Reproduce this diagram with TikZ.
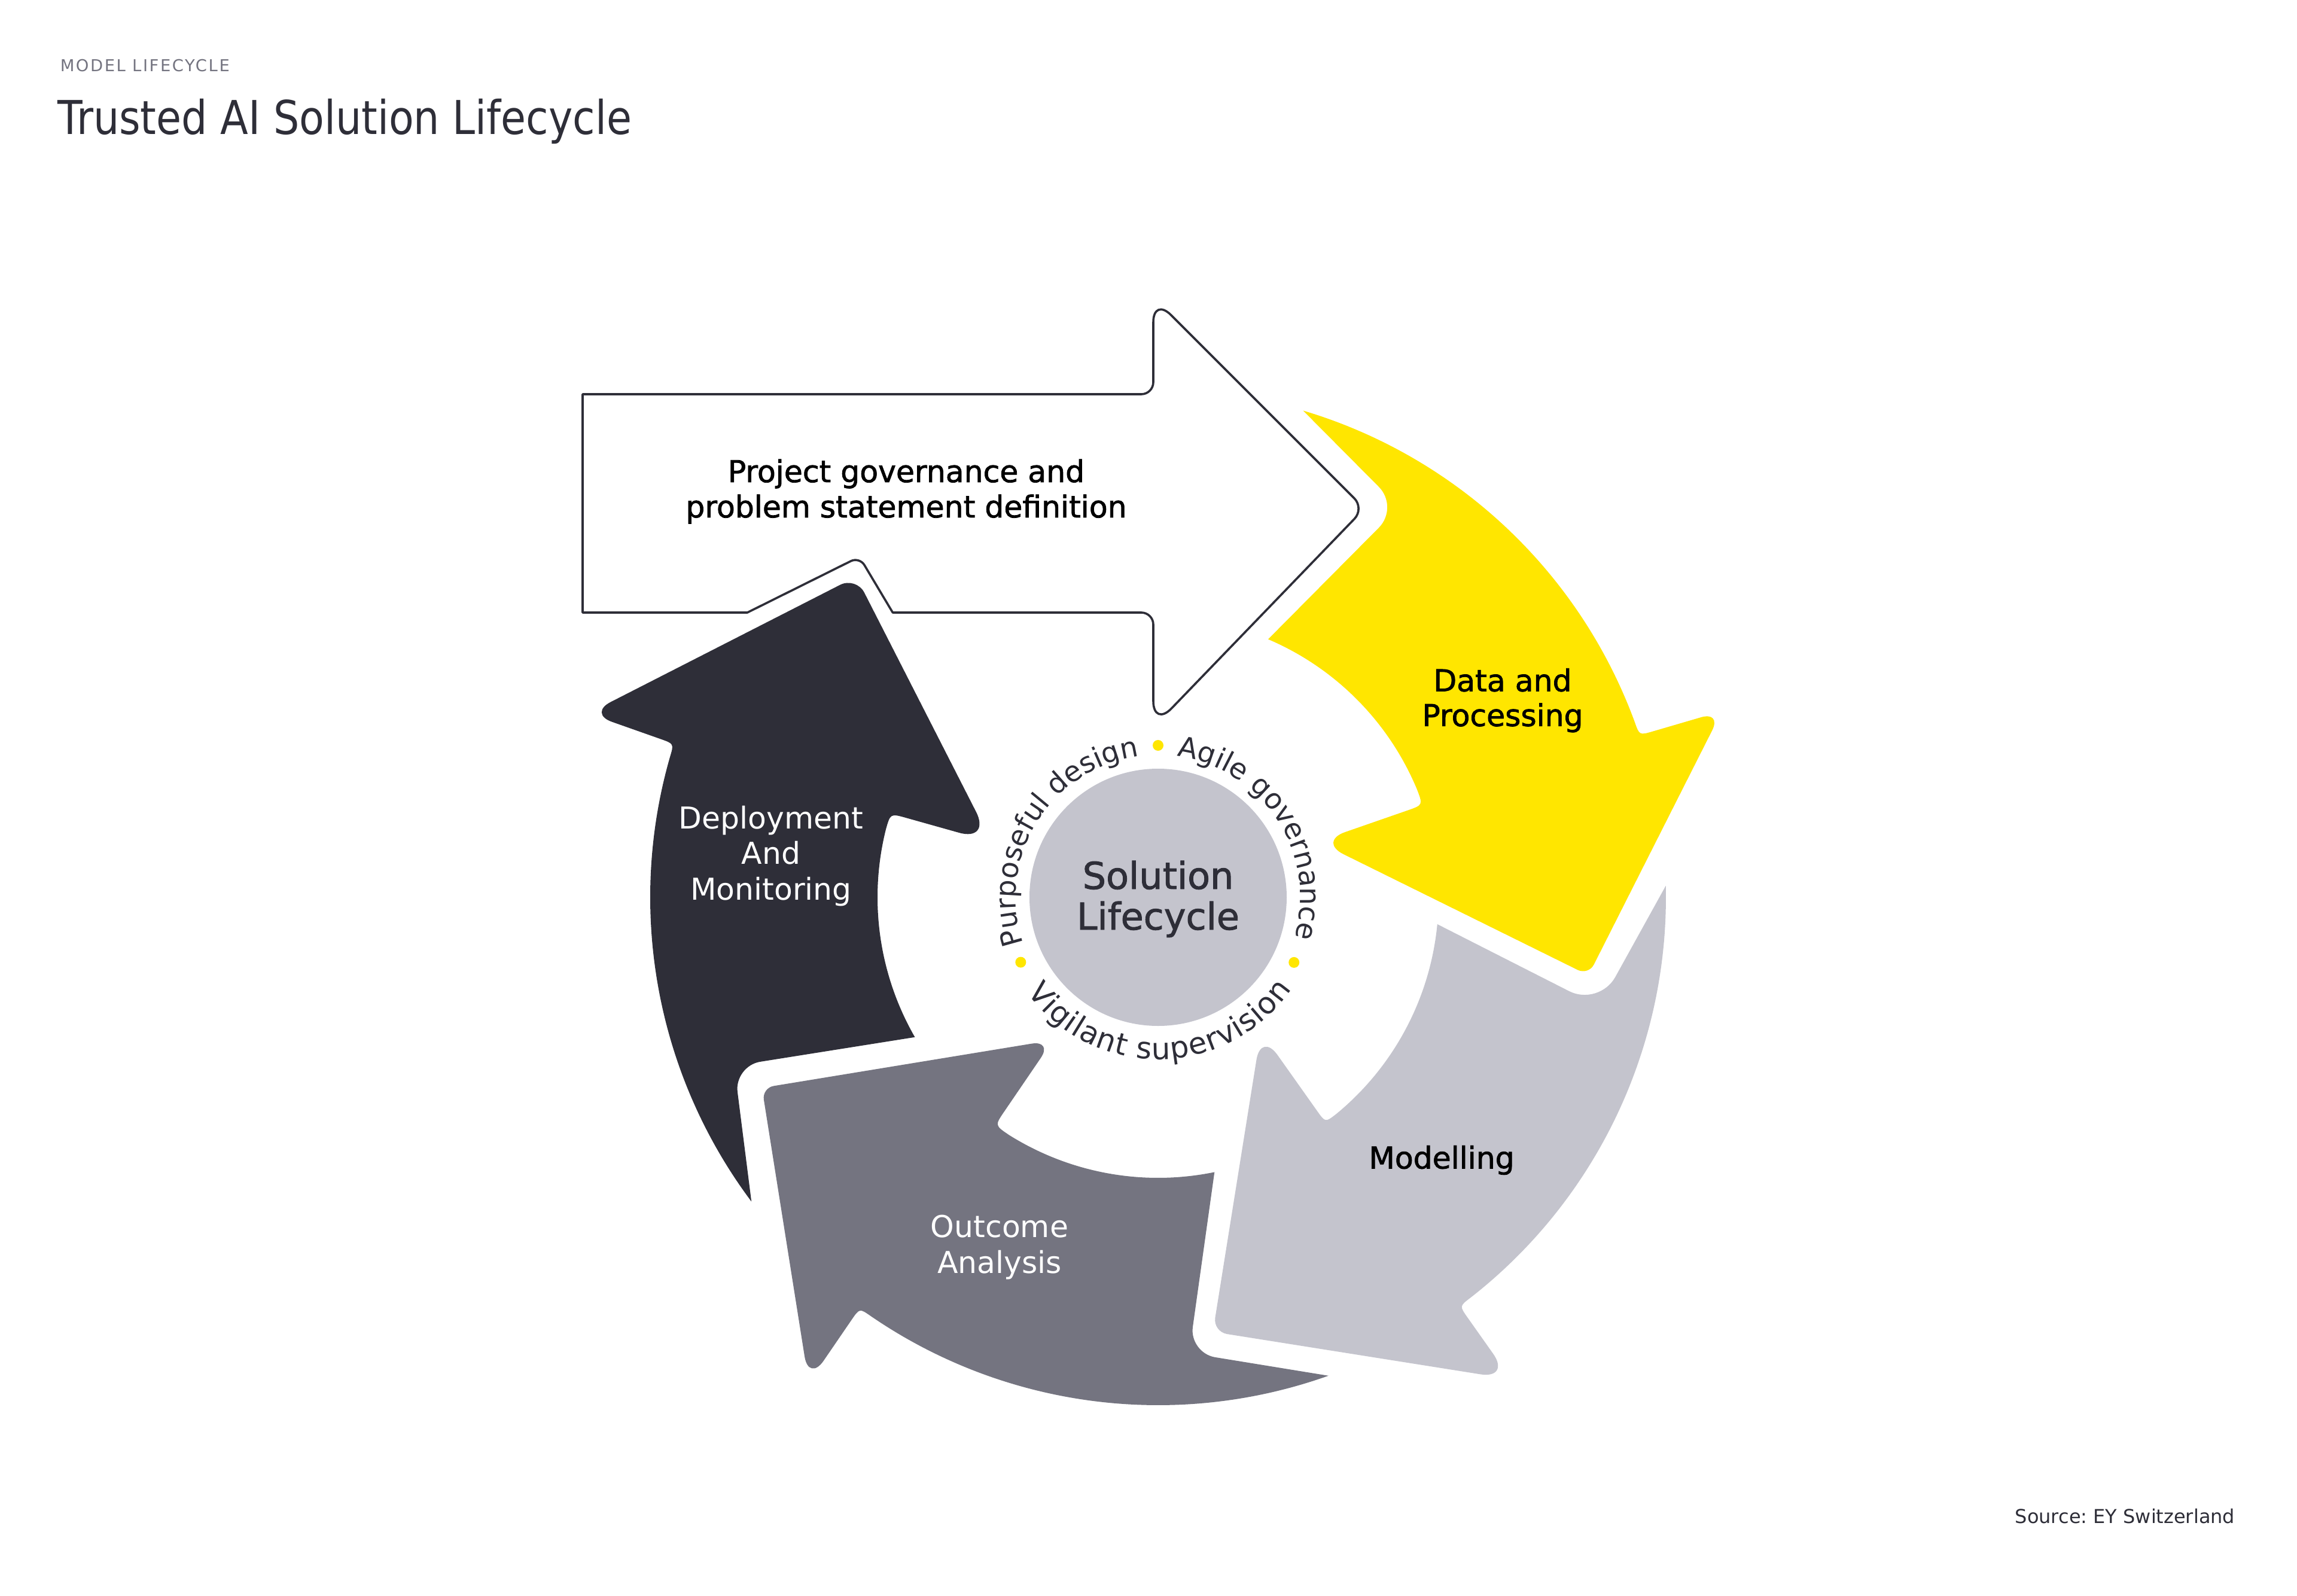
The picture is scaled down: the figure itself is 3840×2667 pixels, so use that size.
\documentclass[tikz,border=0pt]{standalone}
\usepackage{fontspec}
\setmainfont{DejaVu Sans}
\newfontfamily\titlefont[FakeStretch=0.875]{DejaVu Sans}
\newfontfamily\capsfont[LetterSpace=9.4]{DejaVu Sans}
\newfontfamily\medfont[FakeBold=1.5]{DejaVu Sans}
\usetikzlibrary{calc,decorations.text}
\definecolor{eyyellow}{HTML}{FFE600}
\definecolor{eylight}{HTML}{C4C4CD}
\definecolor{eymid}{HTML}{747480}
\definecolor{eydark}{HTML}{2E2E38}
\frenchspacing
% rounded corner: prev, corner, next, distance, control distance
\newcommand\rcorner[5]{-- ($(#2)!#4!(#1)$) .. controls ($(#2)!#5!(#1)$) and ($(#2)!#5!(#3)$) .. ($(#2)!#4!(#3)$)}
\newcommand\labfont{\fontsize{12.6pt}{15pt}\selectfont}
\newcommand\ringfont{\fontsize{11.8pt}{14pt}\selectfont}
\newcommand\ringfontb{\fontsize{12.5pt}{14pt}\selectfont}
\begin{document}
\begin{tikzpicture}[x=0.25pt,y=0.25pt,
  lab/.style={anchor=base,inner sep=0pt,font=\labfont},
  darklab/.style={lab,text=black,font=\medfont\labfont},
  lightlab/.style={lab,text=white},
  ringtext/.style={decorate,decoration={text along path,text align={fit to path},text color=eydark}},
  dotmark/.style={fill=eyyellow}]
\useasboundingbox (-1936,-1167) rectangle (1904,1500);
\fill[white] (-1936,-1167) rectangle (1904,1500);

% ---------- white arrow: project governance ----------
\draw[eydark,line width=0.9pt,line join=round,fill=white] (-962,841)
  \rcorner{-962,841}{-8,841}{-8,1003}{5pt}{2.25pt}
  \rcorner{-8,841}{-8,1003}{345,650}{10.5pt}{4.7pt}
  \rcorner{-8,1003}{345,650}{-8,284.2}{6pt}{2.7pt}
  \rcorner{345,650}{-8,284.2}{-8,476}{11pt}{5pt}
  \rcorner{-8,284.2}{-8,476}{-443.6,476}{5pt}{2.25pt}
  -- (-443.6,476)
  \rcorner{-443.6,476}{-499.2,569.2}{-686.6,476}{4pt}{1.8pt}
  -- (-686.6,476) -- (-962,476) -- cycle;

% ---------- yellow arrow: data and processing ----------
\fill[eyyellow] (73.4:849)
  \rcorner{73.4:849}{403,652}{66.9:469}{12pt}{5.4pt}
  -- (66.9:469) arc[start angle=66.9,end angle=22.6,radius=469]
  .. controls (19.2:469) .. ($(19.2:469)!7pt!(267.2,93.2)$)
  \rcorner{19.2:469}{267.2,93.2}{719.5,-130.3}{12pt}{5.4pt}
  \rcorner{267.2,93.2}{719.5,-130.3}{942.5,311.1}{5pt}{2.25pt}
  \rcorner{719.5,-130.3}{942.5,311.1}{18.6:849}{9pt}{4pt}
  -- ($(18.6:849)!6pt!(942.5,311.1)$) .. controls (18.6:849) .. (20.2:849)
  arc[start angle=20.2,end angle=73.4,radius=849] -- cycle;

% ---------- light grey arrow: modelling ----------
\fill[eylight] (1.3:849)
  \rcorner{1.3:849}{737.2,-182.3}{-5.5:469}{14pt}{6.3pt}
  -- (-5.5:469) arc[start angle=-5.5,end angle=-50.5,radius=469]
  .. controls (-53.4:469) .. ($(-53.4:469)!6pt!(172,-224.6)$)
  \rcorner{-53.4:469}{172,-224.6}{91.7,-726.3}{12pt}{5.4pt}
  \rcorner{172,-224.6}{91.7,-726.3}{590.2,-805.5}{6pt}{2.7pt}
  \rcorner{91.7,-726.3}{590.2,-805.5}{-53.6:849}{13pt}{5.85pt}
  -- ($(-53.6:849)!6pt!(590.2,-805.5)$) .. controls (-53.6:849) .. (-52:849)
  arc[start angle=-52,end angle=1.3,radius=849] -- cycle;

% ---------- mid grey arrow: outcome analysis ----------
\fill[eymid] ($(-662.2,-318.6)!5pt!(-175.8,-238.8)$)
  \rcorner{-662.2,-318.6}{-175.8,-238.8}{234.4:469}{9pt}{4pt}
  -- ($(234.4:469)!7pt!(-175.8,-238.8)$) .. controls (234.4:469) .. (238:469)
  arc[start angle=238,end angle=281.6,radius=469]
  \rcorner{281.6:469}{51.9,-761.8}{289.6:849}{11pt}{5pt}
  -- (289.6:849) arc[start angle=289.6,end angle=235.6,radius=849]
  .. controls (234:849) .. ($(234:849)!6pt!(-584,-811)$)
  \rcorner{234:849}{-584,-811}{-662.2,-318.6}{11pt}{5pt}
  \rcorner{-584,-811}{-662.2,-318.6}{-175.8,-238.8}{5pt}{2.25pt}
  -- cycle;

% ---------- dark arrow: deployment and monitoring ----------
\fill[eydark] ($(-504.7,536)!7.5pt!(-278.7,92.8)$)
  \rcorner{-504.7,536}{-278.7,92.8}{162.6:469}{14pt}{6.3pt}
  -- ($(162.6:469)!7pt!(-278.7,92.8)$) .. controls (162.6:469) .. (166:469)
  arc[start angle=166,end angle=209.9,radius=469]
  \rcorner{209.9:469}{-708.6,-281.8}{216.8:849}{11pt}{5pt}
  -- (216.8:849) arc[start angle=216.8,end angle=164,radius=849]
  .. controls (162.4:849) .. ($(162.4:849)!6pt!(-952.6,307.3)$)
  \rcorner{162.4:849}{-952.6,307.3}{-504.7,536}{10.5pt}{4.7pt}
  \rcorner{-952.6,307.3}{-504.7,536}{-278.7,92.8}{7.5pt}{3.4pt}
  -- cycle;

% ---------- centre ----------
\fill[eylight] (0,0) circle[radius=215];
\path[ringtext,decoration={text={|\ringfont|Purposeful design}}]
  (199:238) arc[start angle=199,end angle=97.5,radius=238];
\path[ringtext,decoration={text={|\ringfont|Agile governance}}]
  (82.5:238) arc[start angle=82.5,end angle=-15,radius=238];
\path[ringtext,decoration={text={|\ringfontb|Vigilant supervision}}]
  (216:271) arc[start angle=216,end angle=325.5,radius=271];
\fill[dotmark] (90:254) circle[radius=9];
\fill[dotmark] (205.3:254) circle[radius=9];
\fill[dotmark] (334.4:252) circle[radius=9];

\node[anchor=base,inner sep=0pt,text=eydark,font=\medfont\fontsize{15.5pt}{18pt}\selectfont] (sol1) at (0,14) {Solution};
\node[anchor=base,inner sep=0pt,text=eydark,font=\medfont\fontsize{15.5pt}{18pt}\selectfont] (sol2) at (0,-54) {Lifecycle};

% ---------- labels ----------
\node[darklab] (pg1) at (-421,694) {Project governance and};
\node[darklab] (pg2) at (-421,635) {problem statement definition};
\node[darklab] (dp1) at (576,344.4) {Data and};
\node[darklab] (dp2) at (576,286.2) {Processing};
\node[darklab] (mod) at (474,-453.4) {Modelling};
\node[lightlab] (oa1) at (-265,-568.3) {Outcome};
\node[lightlab] (oa2) at (-265,-628.6) {Analysis};
\node[lightlab] (dm1) at (-647,115) {Deployment};
\node[lightlab] (dm2) at (-647,55.4) {And};
\node[lightlab] (dm3) at (-647,-4.2) {Monitoring};

% ---------- titles ----------
\node[anchor=base west,inner sep=0pt,text=eymid] (kicker) at (-1836,1380)
  {\capsfont\fontsize{6.85pt}{8pt}\selectfont MODEL LIFECYCLE};
\node[anchor=base west,inner sep=0pt,text=eydark] (title) at (-1840.5,1275)
  {\titlefont\fontsize{19.5pt}{22pt}\selectfont Trusted AI Solution Lifecycle};
\node[anchor=base east,inner sep=0pt,text=eydark] (source) at (1801,-1046.7)
  {\fontsize{8pt}{10pt}\selectfont Source: EY Switzerland};
\end{tikzpicture}
\end{document}
